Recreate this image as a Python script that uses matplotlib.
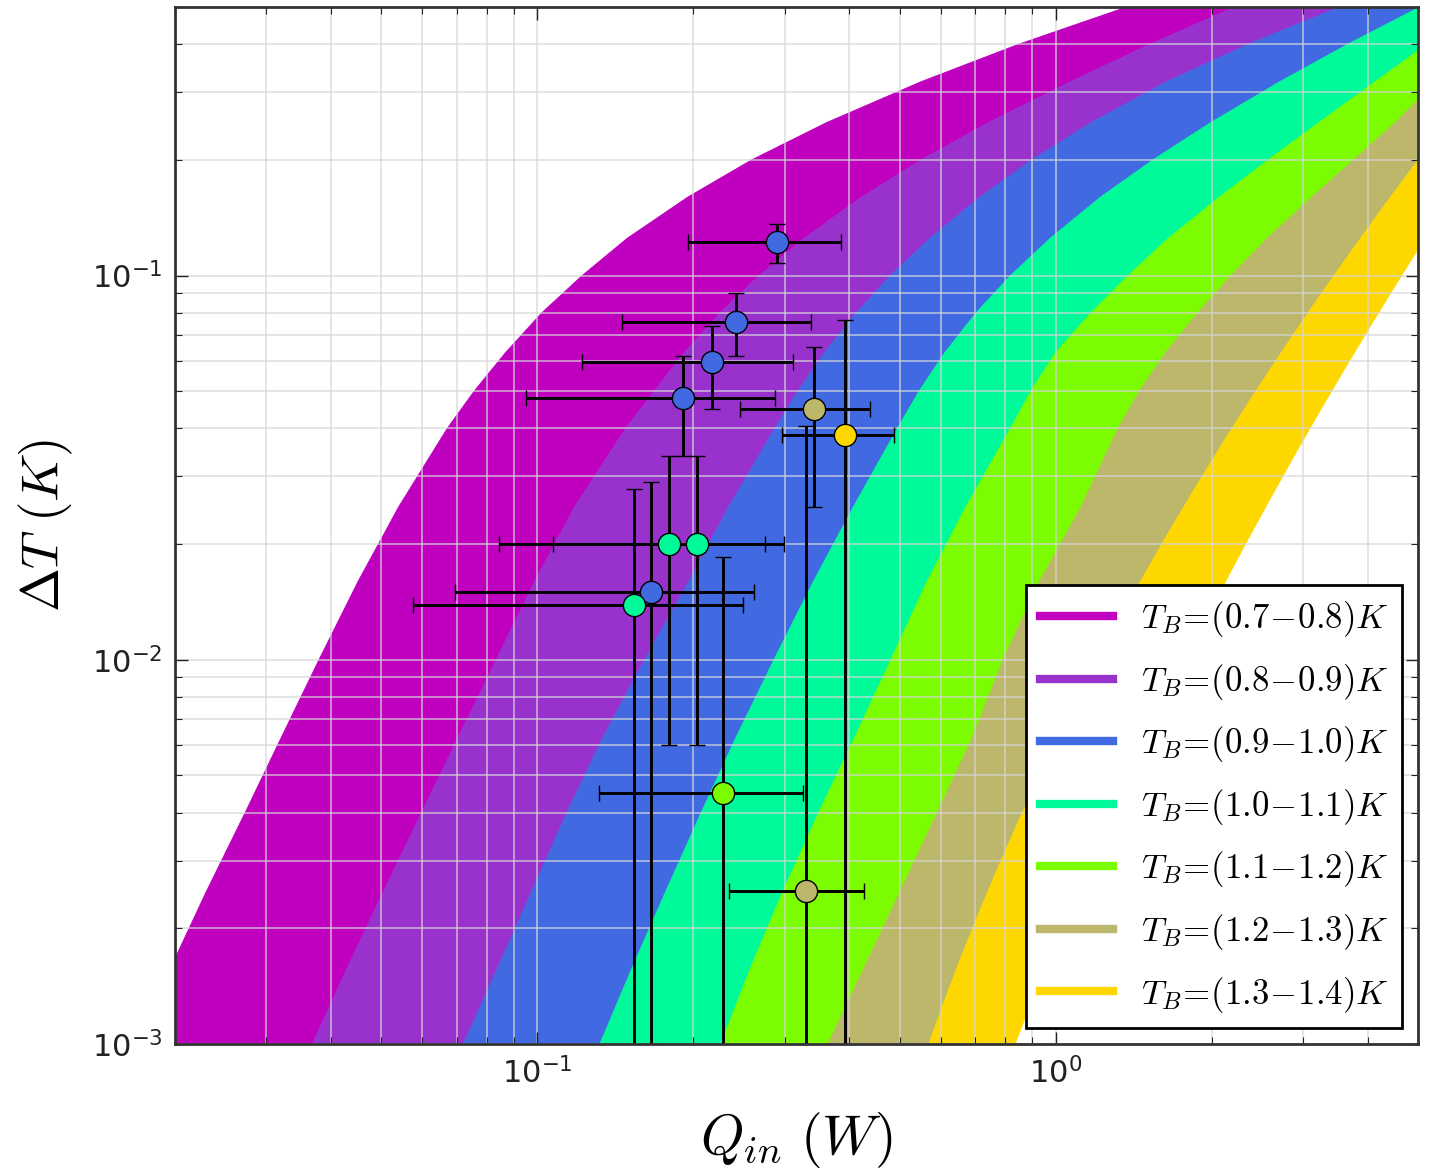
import matplotlib
matplotlib.use('Agg')
import matplotlib.pyplot as plt
from matplotlib.lines import Line2D
from matplotlib.patches import Polygon

plt.rcParams['mathtext.fontset'] = 'cm'
plt.rcParams['axes.unicode_minus'] = False

dt_levels = [0.001, 0.0016, 0.0025, 0.004, 0.0063, 0.01, 0.016, 0.025, 0.04, 0.05, 0.063, 0.08,
             0.1, 0.125, 0.16, 0.2, 0.25, 0.32, 0.4, 0.5]

# Q_in of each boundary curve (one per bath temperature) at those levels
t07_q = [0.0197, 0.023, 0.0273, 0.0321, 0.0379, 0.0451, 0.054, 0.067, 0.0755, 0.0868, 0.102, 0.122,
         0.149, 0.195, 0.259, 0.361, 0.551, 0.848, 1.37]
t08_q = [0.0368, 0.0432, 0.0505, 0.0598, 0.0704, 0.0833, 0.0988, 0.118, 0.148, 0.168, 0.192, 0.225,
         0.268, 0.327, 0.422, 0.55, 0.741, 1.07, 1.52, 2.21]
t09_q = [0.072, 0.0842, 0.0976, 0.114, 0.134, 0.161, 0.196, 0.234, 0.287, 0.318, 0.358, 0.412,
         0.48, 0.572, 0.714, 0.899, 1.17, 1.64, 2.35, 3.53]
t10_q = [0.132, 0.153, 0.177, 0.207, 0.242, 0.286, 0.341, 0.407, 0.495, 0.545, 0.611, 0.702,
         0.818, 0.976, 1.22, 1.54, 1.99, 2.71, 3.66, 5.04]
t11_q = [0.226, 0.259, 0.298, 0.349, 0.41, 0.481, 0.565, 0.671, 0.818, 0.896, 1.0, 1.17,
         1.38, 1.65, 2.07, 2.57, 3.22, 4.14, 5.21]
t12_q = [0.364, 0.429, 0.502, 0.591, 0.692, 0.792, 0.931, 1.12, 1.32, 1.45, 1.63, 1.88,
         2.18, 2.56, 3.12, 3.76, 4.52, 5.43]

# the two warmest curves were read at their own dT points
t13_q = [0.5589, 0.6026, 0.6526, 0.71, 0.7759, 0.8518, 0.9394, 1.041, 1.158, 1.295, 1.454, 1.64,
         1.859, 2.116, 2.42, 2.779, 3.207, 3.718, 4.329, 5.064]
t13_dt = [0.0009333, 0.001239, 0.001646, 0.002185, 0.002902, 0.003853, 0.005116, 0.006794, 0.009021,
          0.01198, 0.01591, 0.02112, 0.02805, 0.03724, 0.04946, 0.06567, 0.0872, 0.1158, 0.1538, 0.2042]
t14_q = [0.8188, 0.8811, 0.9507, 1.028, 1.115, 1.212, 1.322, 1.444, 1.582, 1.738, 1.914, 2.113,
         2.339, 2.596, 2.888, 3.221, 3.602, 4.039, 4.54, 5.116]
t14_dt = [0.0009333, 0.001207, 0.00156, 0.002017, 0.002608, 0.003372, 0.00436, 0.005637, 0.007288,
          0.009423, 0.01218, 0.01575, 0.02037, 0.02633, 0.03405, 0.04402, 0.05692, 0.07359, 0.09515, 0.123]

band_ranges = ['0.7-0.8', '0.8-0.9', '0.9-1.0', '1.0-1.1', '1.1-1.2', '1.2-1.3', '1.3-1.4']
band_colors = ['m', 'darkorchid', 'royalblue', 'mediumspringgreen', 'lawngreen', 'darkkhaki', 'gold']

# measurements
pt_q = [0.29, 0.2415, 0.2168, 0.191, 0.1654, 0.33, 0.3423, 0.3925, 0.2286, 0.1795, 0.203, 0.1535]
pt_dt = [0.122, 0.0759, 0.0595, 0.0479, 0.015, 0.0025, 0.045, 0.0385, 0.0045, 0.02, 0.02, 0.0139]
pt_qerr = [0.095, 0.096, 0.095, 0.096, 0.096, 0.096, 0.096, 0.096, 0.097, 0.095, 0.096, 0.096]
pt_dterr = [0.014, 0.014, 0.0145, 0.014, 0.014, 0.038, 0.02, 0.038, 0.014, 0.014, 0.014, 0.014]
pt_color = ['royalblue'] * 5 + ['darkkhaki', 'darkkhaki', 'gold', 'lawngreen'] + ['mediumspringgreen'] * 3

Q_MIN, Q_MAX = 0.02, 5.0
DT_MIN, DT_MAX = 1e-3, 0.5

fig = plt.figure(figsize=(14.29, 11.72), dpi=100)
ax = fig.add_axes([0.1225, 0.1092, 0.8698, 0.8848])
ax.set_xscale('log')
ax.set_yscale('log')
ax.set_xlim(Q_MIN, Q_MAX)
ax.set_ylim(DT_MIN, DT_MAX)

curves = [(t07_q, dt_levels[1:]), (t08_q, dt_levels), (t09_q, dt_levels), (t10_q, dt_levels),
          (t11_q, dt_levels[:19]), (t12_q, dt_levels[:18]), (t13_q, t13_dt), (t14_q, t14_dt)]

# each band is the area between two neighbouring curves, closed outside the frame
for i, color in enumerate(band_colors):
    upper = list(zip(*curves[i]))
    lower = list(zip(*curves[i + 1]))[::-1]
    verts = upper + [(Q_MAX * 1.5, DT_MAX * 1.5)] + lower + [(Q_MIN / 1.5, DT_MIN / 1.5)]
    ax.add_patch(Polygon(verts, closed=True, facecolor=color, edgecolor=color, lw=0.6, zorder=1))

for q, dt, qe, dte, c in zip(pt_q, pt_dt, pt_qerr, pt_dterr, pt_color):
    ax.errorbar(q, dt, xerr=qe, yerr=dte, fmt='o', color=c, ms=16, mec='k', mew=1,
                ecolor='k', elinewidth=2.1, capsize=5.5, capthick=3)

ax.grid(True, which='both', color='#d6d6d6', alpha=0.7, lw=1.3)
ax.tick_params(which='both', direction='in', top=True, right=True, labelsize=22, colors='#222222')
ax.tick_params(which='major', length=9, width=1, pad=9)
ax.tick_params(which='minor', length=5, width=0.8)
for s in ax.spines.values():
    s.set_color('#333333')
    s.set_linewidth(2)

ax.set_xlabel(r'$Q_{in}\ (W)$', fontsize=40, labelpad=15)
ax.set_ylabel(r'$\Delta T\ (K)$', fontsize=38, labelpad=12)

handles = [Line2D([], [], color=c, lw=6) for c in band_colors]
labels = [r'$T_B\!=\!(%s)K$' % r.replace('-', r'\!-\!') for r in band_ranges]
leg = ax.legend(handles, labels, loc='lower right', fontsize=25, fancybox=False, framealpha=1,
                edgecolor='k', borderaxespad=0.45, handlelength=2.1, handletextpad=0.8,
                labelspacing=0.65)
leg.get_frame().set_linewidth(2)

fig.savefig('out.png', dpi=100)
